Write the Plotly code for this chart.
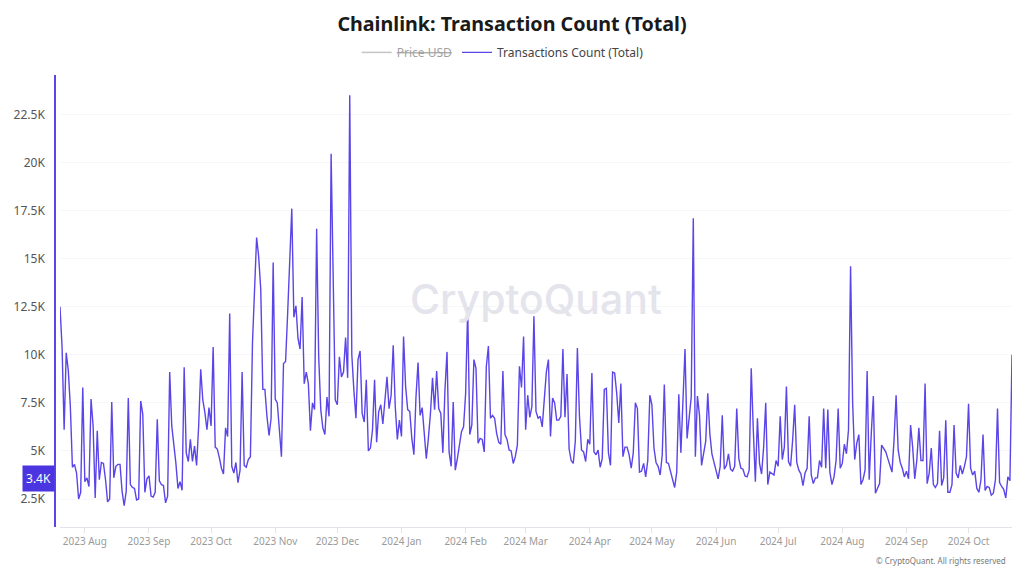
import pandas as pd
import plotly.graph_objects as go

# daily transaction count in thousands
tx_count_k = [
    12.5, 10.4, 6.1, 10.1, 9.2, 7.3, 4.15, 4.3, 3.85, 2.5, 2.85, 8.3, 3.4, 3.6, 3.15, 7.7, 6.3, 2.55, 6.05, 3.5,
    4.4, 4.35, 3.5, 2.35, 2.5, 7.55, 3.6, 4.2, 4.3, 4.3, 2.9, 2.15, 2.9, 7.75, 3.25, 3.1, 3.05, 2.45, 2.5, 7.6,
    6.9, 2.85, 3.55, 3.7, 2.65, 2.6, 2.85, 6.65, 3.45, 3.25, 3.2, 2.3, 2.65, 9.1, 6.3, 5.4, 4.35, 3.05, 3.4, 2.95,
    9.35, 4.9, 4.45, 5.6, 4.45, 5.25, 4.25, 6.3, 9.25, 7.65, 7.0, 6.1, 7.25, 6.3, 10.4, 5.2, 5.1, 4.65, 4.1, 3.8,
    6.2, 5.75, 12.15, 4.2, 3.85, 4.4, 3.35, 4.0, 9.1, 4.25, 4.15, 4.55, 4.7, 10.6, 13.75, 16.1, 15.1, 13.4, 8.2, 8.2,
    6.8, 5.8, 6.7, 14.8, 7.7, 7.5, 6.1, 4.7, 9.55, 9.65, 12.15, 15.3, 17.6, 11.95, 12.55, 10.85, 10.3, 13.0, 8.5, 9.1,
    8.5, 6.05, 7.5, 7.15, 16.55, 9.9, 7.15, 6.2, 5.85, 7.8, 6.8, 20.45, 13.9, 7.65, 7.4, 9.9, 8.85, 9.1, 10.9, 8.8,
    23.5, 10.0, 8.15, 6.7, 9.75, 10.2, 6.95, 6.5, 8.7, 5.0, 5.15, 6.1, 8.7, 5.45, 7.05, 7.4, 6.4, 7.65, 8.85, 7.2,
    7.9, 10.5, 7.3, 5.6, 6.6, 5.75, 10.95, 8.35, 7.15, 7.05, 5.65, 4.8, 7.8, 9.6, 6.85, 7.25, 5.9, 4.6, 5.65, 6.95,
    8.8, 7.15, 9.15, 7.2, 6.95, 4.9, 8.15, 10.15, 4.95, 4.2, 7.55, 4.0, 4.6, 5.3, 6.0, 6.25, 8.0, 12.45, 5.85, 6.35,
    9.75, 9.3, 5.4, 5.65, 5.6, 4.95, 9.4, 10.45, 6.7, 6.85, 6.7, 5.9, 5.45, 5.35, 9.15, 5.85, 5.6, 5.05, 5.0, 4.35,
    4.7, 5.3, 9.4, 8.3, 10.95, 6.1, 7.9, 6.75, 7.3, 12.0, 7.05, 6.7, 6.8, 6.25, 7.55, 9.1, 9.75, 5.75, 7.75, 7.5,
    6.6, 6.6, 6.8, 10.3, 6.75, 9.0, 5.1, 4.5, 4.35, 5.5, 10.35, 6.8, 5.05, 4.95, 4.45, 5.6, 5.35, 9.05, 4.95, 4.8,
    5.05, 4.15, 4.6, 8.2, 8.25, 4.9, 4.25, 9.1, 9.05, 8.0, 6.45, 8.5, 4.7, 5.2, 5.2, 4.8, 4.1, 4.9, 7.5, 7.2,
    3.9, 3.95, 4.35, 3.65, 4.5, 7.9, 7.4, 5.15, 4.4, 4.2, 3.75, 4.8, 8.45, 4.4, 4.35, 3.9, 3.5, 3.1, 3.9, 7.95,
    4.9, 8.0, 10.3, 5.65, 6.6, 7.8, 17.1, 4.7, 7.85, 6.85, 4.25, 4.95, 5.5, 8.0, 5.9, 4.85, 4.45, 3.9, 3.55, 4.2,
    6.85, 4.05, 4.25, 4.85, 4.05, 3.95, 4.2, 7.2, 4.6, 4.1, 4.05, 3.7, 3.65, 4.0, 9.3, 6.1, 3.4, 6.7, 4.35, 3.8,
    5.2, 7.5, 3.25, 3.9, 3.8, 3.75, 4.5, 4.2, 6.8, 4.55, 5.2, 8.35, 4.45, 4.2, 5.55, 7.4, 4.4, 4.0, 3.8, 3.2,
    3.85, 4.1, 6.8, 3.75, 3.3, 3.6, 3.6, 4.5, 4.15, 7.2, 4.1, 7.15, 3.9, 3.25, 3.65, 4.5, 7.2, 4.1, 4.35, 5.35,
    4.85, 6.1, 14.6, 7.5, 4.55, 5.4, 5.85, 3.25, 3.5, 4.0, 9.15, 3.5, 5.9, 7.85, 2.8, 3.05, 3.3, 5.3, 5.15, 4.95,
    4.6, 4.2, 3.9, 5.55, 7.9, 5.05, 4.4, 4.1, 3.65, 3.95, 3.55, 6.35, 5.2, 3.55, 4.5, 6.2, 4.5, 4.5, 8.5, 3.3,
    3.85, 5.15, 3.25, 3.1, 3.3, 6.05, 3.2, 3.6, 6.6, 2.85, 2.85, 3.25, 6.35, 3.85, 3.6, 4.25, 3.8, 4.2, 4.7, 7.45,
    4.1, 3.75, 3.95, 3.05, 2.85, 3.5, 5.85, 2.95, 3.15, 3.1, 2.7, 2.8, 3.5, 7.2, 3.35, 3.15, 3.0, 2.55, 3.65, 3.45,
    10.0,
]
tick_vals = [2500, 5000, 7500, 10000, 12500, 15000, 17500, 20000, 22500]
tick_text = ["2.5K", "5K", "7.5K", "10K", "12.5K", "15K", "17.5K", "20K", "22.5K"]
current_value = 3570
current_label = "3.4K"

dates = pd.date_range("2023-07-20", periods=len(tx_count_k), freq="D")
tx_count = [v * 1000 for v in tx_count_k]

FONT = "Noto Sans"
PURPLE = "#5a45e8"

fig = go.Figure()
fig.add_trace(go.Scatter(
    x=[dates[0]], y=[None], name="<s>Price USD</s>", mode="lines",
    line=dict(color="#8a8a8a", width=1.5), visible="legendonly",
))
fig.add_trace(go.Scatter(
    x=dates, y=tx_count, name="Transactions Count (Total)", mode="lines",
    line=dict(color=PURPLE, width=1.4),
))

fig.update_layout(
    width=1024, height=572,
    margin=dict(l=60, r=12, t=75, b=45),
    paper_bgcolor="white", plot_bgcolor="white",
    font=dict(family=FONT, color="#444444"),
    title=dict(
        text="<b>Chainlink: Transaction Count (Total)</b>",
        x=0.5, xanchor="center", y=0.958, yanchor="middle",
        font=dict(size=19.7, color="#1a1a1a", family=FONT),
    ),
    legend=dict(
        orientation="h", x=0.465, xref="paper", xanchor="center", y=1.05, yanchor="middle",
        font=dict(size=12, color="#444444"), itemwidth=30,
    ),
    showlegend=True,
)
fig.update_xaxes(
    type="date", range=["2023-07-20", "2024-10-22"],
    tick0="2023-08-01", dtick="M1", tickformat="%Y %b",
    ticks="outside", ticklen=5, tickcolor="#e2e2e8",
    tickfont=dict(size=10, color="#9a9a9a"),
    showgrid=False, showline=True, linecolor="#e2e2e8", linewidth=1, zeroline=False,
)
fig.update_yaxes(
    range=[1044, 24550], tickvals=tick_vals, ticktext=tick_text,
    anchor="free", position=0, shift=-5,
    ticks="outside", ticklen=7, tickcolor="rgba(0,0,0,0)",
    tickfont=dict(size=12, color="#555555"),
    showgrid=True, gridcolor="#f7f7f9", gridwidth=1,
    showline=True, linecolor=PURPLE, linewidth=1.5, zeroline=False,
)
fig.add_annotation(
    text="CryptoQuant", xref="paper", yref="paper", x=0.5, y=0.505,
    showarrow=False, font=dict(size=41, color="#e4e4ec", family="Inter", weight=500),
)
fig.add_annotation(
    text=current_label, xref="paper", yref="y", x=-5 / 952, y=current_value,
    xanchor="right", yanchor="middle", showarrow=False, align="center",
    bgcolor="#4a35e0", width=29, height=23, font=dict(size=12, color="white"),
)
fig.add_annotation(
    text="© CryptoQuant. All rights reserved", xref="paper", yref="paper",
    x=0.9958, y=-0.075, xanchor="right", yanchor="middle", showarrow=False,
    font=dict(size=8, color="#777777"),
)

# page body has a default margin, drop it so the figure sits at 0,0
fig.write_html(
    "out.html",
    config={"displayModeBar": False},
    post_script="document.body.style.margin = '0';",
)
